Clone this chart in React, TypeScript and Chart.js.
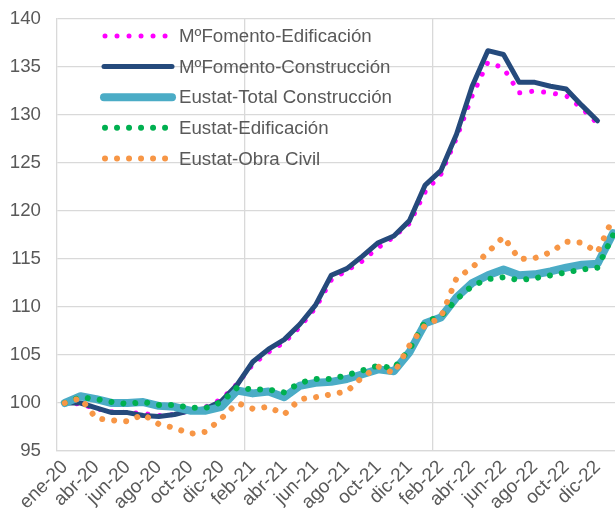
import { useEffect, useRef } from 'react';
import { Chart, registerables } from 'chart.js';

Chart.register(...registerables);

const categories = [
  'ene-20', 'mar-20', 'abr-20', 'may-20', 'jun-20', 'jul-20', 'ago-20', 'sep-20', 'oct-20', 'nov-20', 'dic-20',
  'ene-21', 'feb-21', 'mar-21', 'abr-21', 'may-21', 'jun-21', 'jul-21', 'ago-21', 'sep-21', 'oct-21', 'nov-21', 'dic-21',
  'ene-22', 'feb-22', 'mar-22', 'abr-22', 'may-22', 'jun-22', 'jul-22', 'ago-22', 'sep-22', 'oct-22', 'nov-22', 'dic-22',
  'ene-23',
];

const fomentoEdificacion = [
  100.0, 99.9, 99.4, 99.1, 99.0, 98.9, 98.7, 98.8, 99.2, 99.6, 100.4, 102.0,
  104.0, 105.3, 106.3, 107.9, 109.9, 112.8, 113.8, 114.8, 116.2, 117.3, 118.7, 122.0,
  123.8, 127.6, 132.0, 135.5, 134.9, 132.3, 132.5, 132.3, 132.0, 130.7, 129.1, null,
];

const fomentoConstruccion = [
  100.0, 100.0, 99.5, 99.0, 99.0, 98.7, 98.6, 98.8, 99.2, 99.4, 100.2, 101.9,
  104.3, 105.6, 106.6, 108.2, 110.2, 113.3, 114.0, 115.3, 116.7, 117.4, 119.0, 122.7,
  124.2, 128.0, 133.0, 136.7, 136.3, 133.4, 133.4, 133.0, 132.7, 131.0, 129.4, null,
];

const eustatTotal = [
  100.0, 100.7, 100.4, 100.0, 100.0, 100.1, 99.7, 99.6, 99.2, 99.2, 99.6, 101.3,
  101.0, 101.2, 100.6, 101.8, 102.1, 102.2, 102.5, 103.0, 103.5, 103.3, 105.3, 108.3,
  108.9, 111.0, 112.5, 113.3, 113.9, 113.3, 113.4, 113.7, 114.1, 114.4, 114.5, 117.7,
];

const eustatEdificacion = [
  100.0, 100.6, 100.4, 100.1, 99.9, 100.1, 99.8, 99.8, 99.5, 99.5, 100.1, 101.6,
  101.4, 101.4, 101.1, 102.1, 102.5, 102.5, 102.9, 103.4, 103.9, 103.6, 105.6, 108.5,
  109.0, 110.8, 112.2, 112.9, 113.1, 112.8, 113.0, 113.3, 113.6, 113.9, 114.1, 117.5,
];

const eustatObraCivil = [
  100.0, 100.5, 98.4, 98.2, 98.1, 98.8, 97.8, 97.4, 96.8, 97.0, 98.4, 100.0,
  99.4, 99.6, 98.8, 100.4, 100.6, 100.9, 101.2, 102.7, 103.8, 103.1, 106.0, 108.1,
  108.9, 113.0, 114.1, 115.7, 117.3, 115.0, 115.1, 115.7, 116.8, 116.7, 115.7, 119.3,
];

const seriesLabels = [
  'MºFomento-Edificación',
  'MºFomento-Construcción',
  'Eustat-Total Construcción',
  'Eustat-Edificación',
  'Eustat-Obra Civil',
];

const FONT = '"Liberation Sans", Arial, sans-serif';
const TEXT = '#595959';
const GRID = '#D9D9D9';

const insideLegend = {
  id: 'insideLegend',
  afterDatasetsDraw(chart: any) {
    const ctx = chart.ctx;
    ctx.save();
    chart.data.datasets.forEach((ds: any, i: number) => {
      const y = 36 + i * 30.6;
      ctx.beginPath();
      ctx.strokeStyle = ds.borderColor;
      ctx.lineWidth = ds.borderWidth;
      ctx.lineCap = 'round';
      if (ds.borderDash && ds.borderDash.length) {
        ctx.setLineDash(ds.borderDash);
        ctx.moveTo(105, y);
        ctx.lineTo(167, y);
      } else {
        ctx.setLineDash([]);
        ctx.moveTo(104, y);
        ctx.lineTo(172, y);
      }
      ctx.stroke();
      ctx.setLineDash([]);
      ctx.fillStyle = TEXT;
      ctx.font = '18.7px ' + FONT;
      ctx.textBaseline = 'middle';
      ctx.textAlign = 'left';
      ctx.fillText(ds.label, 179, y + 1);
    });
    ctx.restore();
  },
};

export default function App() {
  const ref = useRef<HTMLCanvasElement | null>(null);

  useEffect(() => {
    if (!ref.current) return;
    const dotted = (color: string, width: number, order: number, label: string, data: any[]) => ({
      label,
      data,
      borderColor: color,
      backgroundColor: color,
      borderWidth: width,
      borderDash: [0.01, 12],
      borderCapStyle: 'round',
      borderJoinStyle: 'round',
      pointRadius: 0,
      tension: 0,
      fill: false,
      order,
    });
    const solid = (color: string, width: number, order: number, label: string, data: any[]) => ({
      label,
      data,
      borderColor: color,
      backgroundColor: color,
      borderWidth: width,
      borderCapStyle: 'round',
      borderJoinStyle: 'round',
      pointRadius: 0,
      tension: 0,
      fill: false,
      order,
    });

    const chart = new Chart(ref.current, {
      type: 'line',
      data: {
        labels: categories,
        datasets: [
          dotted('#FF00FF', 5, 5, seriesLabels[0], fomentoEdificacion),
          solid('#254A7C', 5, 4, seriesLabels[1], fomentoConstruccion),
          solid('#4BACC6', 8, 3, seriesLabels[2], eustatTotal),
          dotted('#00B050', 6, 2, seriesLabels[3], eustatEdificacion),
          dotted('#F79646', 6, 1, seriesLabels[4], eustatObraCivil),
        ] as any,
      },
      options: {
        responsive: false,
        animation: false,
        layout: { padding: { left: 0, right: 4, top: 19, bottom: 0 } },
        plugins: {
          legend: { display: false },
          tooltip: { enabled: false },
        },
        scales: {
          x: {
            type: 'category',
            offset: true,
            grid: {
              offset: true,
              drawTicks: false,
              color: (c: any) => (c.index === 12 || c.index === 24 ? GRID : 'rgba(0,0,0,0)'),
              lineWidth: 1.3,
            },
            border: { display: true, color: GRID, width: 1.3 },
            ticks: {
              autoSkip: false,
              minRotation: 45,
              maxRotation: 45,
              padding: 5,
              color: TEXT,
              font: { family: FONT, size: 19 },
              callback: (_v: any, i: number) => (i % 2 === 0 && i < 35 ? categories[i] : ''),
            },
            afterFit: (s: any) => {
              s.height = 66;
              s.paddingLeft = 0;
              s.paddingRight = 0;
            },
          },
          y: {
            min: 95,
            max: 140,
            grid: { color: GRID, drawTicks: false, lineWidth: 1.3 },
            border: { display: true, color: GRID, width: 1.3 },
            ticks: {
              stepSize: 5,
              padding: 16,
              color: TEXT,
              font: { family: FONT, size: 18.7 },
            },
            afterFit: (s: any) => {
              s.width = 57;
              s.paddingTop = 0;
              s.paddingBottom = 0;
            },
          },
        },
      } as any,
      plugins: [insideLegend],
    });
    return () => chart.destroy();
  }, []);

  return (
    <div style={{ position: 'fixed', left: 0, top: 0, width: 615, height: 517, overflow: 'hidden', background: '#fff' }}>
      <canvas ref={ref} width={625} height={517} style={{ width: 625, height: 517, display: 'block' }} />
    </div>
  );
}
